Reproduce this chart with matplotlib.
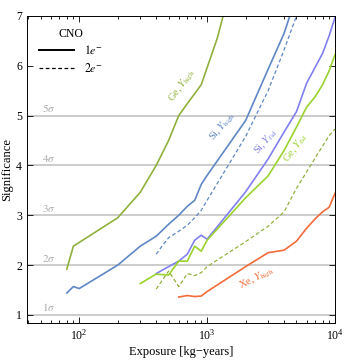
import numpy as np
import matplotlib
matplotlib.use("Agg")
import matplotlib.pyplot as plt
from matplotlib.lines import Line2D

plt.rcParams["font.family"] = ["Liberation Serif", "DejaVu Serif"]
plt.rcParams["mathtext.fontset"] = "stix"

# ---------- Data ----------
ge_high_x = [80, 90, 200, 300, 400, 500, 600, 700, 800, 900, 1000, 1200, 1400]
ge_high_y = [1.92, 2.38, 2.95, 3.46, 4.0, 4.5, 5.0, 5.24, 5.44, 5.62, 5.96, 6.55, 7.2]

si_high_x = [80, 90, 100, 200, 300, 400, 500, 600, 700, 800, 900, 1000, 2000, 3000, 4000, 4500]
si_high_y = [1.44, 1.57, 1.53, 2.0, 2.38, 2.58, 2.82, 3.0, 3.18, 3.3, 3.62, 3.8, 4.9, 5.93, 6.65, 7.05]

si_high2_x = [400, 450, 500, 600, 700, 800, 900, 1000, 2000, 3000, 4000, 5000]
si_high2_y = [2.22, 2.4, 2.55, 2.68, 2.8, 2.95, 3.1, 3.3, 4.58, 5.5, 6.32, 7.0]

si_fid_x = [400, 500, 600, 700, 800, 900, 1000, 2000, 3000, 4000, 5000, 6000, 7000, 8000, 9000, 10000]
si_fid_y = [1.83, 1.97, 2.08, 2.22, 2.5, 2.6, 2.52, 3.47, 4.13, 4.67, 5.08, 5.65, 5.97, 6.25, 6.6, 6.97]

ge_fid_x = [300, 400, 500, 600, 700, 800, 900, 1000, 2000, 3000, 4000, 5000, 6000, 7000, 8000, 9000, 10000]
ge_fid_y = [1.63, 1.82, 1.8, 2.08, 2.08, 2.38, 2.28, 2.5, 3.35, 3.79, 4.3, 4.77, 5.17, 5.38, 5.62, 5.9, 6.22]

ge_fid2_x = [400, 500, 600, 700, 800, 900, 1000, 2000, 3000, 4000, 5000, 6000, 7000, 8000, 9000, 10000]
ge_fid2_y = [1.52, 1.88, 1.57, 1.83, 1.79, 1.85, 1.97, 2.47, 2.78, 3.07, 3.54, 3.87, 4.15, 4.39, 4.6, 4.73]

xe_high_x = [600, 700, 800, 900, 1000, 2000, 3000, 4000, 5000, 6000, 7000, 8000, 9000, 10000]
xe_high_y = [1.36, 1.39, 1.37, 1.38, 1.47, 1.97, 2.25, 2.3, 2.48, 2.74, 2.93, 3.07, 3.16, 3.44]

sigma_levels = [1, 2, 3, 4, 5]

# ---------- Colours ----------
C_GE_HIGH = "#8fb03c"
C_SI_HIGH = "#5f87c5"
C_SI_FID = "#8080f0"
C_GE_FID = "#9ad22e"
C_XE = "#f26b3a"

fig = plt.figure(figsize=(3.45, 3.61), dpi=100)
ax = fig.add_axes([0.078, 0.104, 0.893, 0.852])

for s in sigma_levels:
    ax.axhline(s, color="#cccccc", lw=1.4, zorder=0)
    ax.text(51, s + 0.03, rf"${s}\sigma$", color="#aaaaaa", fontsize=8, ha="left", va="bottom")

ax.plot(ge_high_x, ge_high_y, color=C_GE_HIGH, lw=1.2)
ax.plot(si_high_x, si_high_y, color=C_SI_HIGH, lw=1.2)
ax.plot(si_high2_x, si_high2_y, color=C_SI_HIGH, lw=0.9, ls=(0, (3, 2)))
ax.plot(si_fid_x, si_fid_y, color=C_SI_FID, lw=1.2)
ax.plot(ge_fid_x, ge_fid_y, color=C_GE_FID, lw=1.2)
ax.plot(ge_fid2_x, ge_fid2_y, color=C_GE_HIGH, lw=0.9, ls=(0, (3, 2)))
ax.plot(xe_high_x, xe_high_y, color=C_XE, lw=1.2)

# curve labels
lab = dict(fontsize=7.5, ha="center", va="center", rotation_mode="anchor")
ax.text(640, 5.6, r"Ge, $Y_{\rm high}$", color=C_GE_HIGH, rotation=55, **lab)
ax.text(1330, 4.78, r"Si, $Y_{\rm high}$", color=C_SI_HIGH, rotation=50, **lab)
ax.text(2900, 4.47, r"Si, $Y_{\rm fid}$", color=C_SI_FID, rotation=50, **lab)
ax.text(4900, 4.35, r"Ge, $Y_{\rm fid}$", color=C_GE_FID, rotation=54, **lab)
ax.text(2460, 1.74, r"Xe, $Y_{\rm high}$", color=C_XE, rotation=27, **lab)

ax.set_xscale("log")
ax.set_xlim(39, 1e4)
ax.set_ylim(0.83, 7.0)
ax.set_yticks(range(1, 8))
ax.tick_params(which="both", direction="in", top=True, right=True, labelsize=8.5, width=0.6)
ax.tick_params(which="major", length=4)
ax.tick_params(which="minor", length=2)
for sp in ax.spines.values():
    sp.set_linewidth(0.7)

ax.set_xlabel("Exposure [kg\u2212years]", fontsize=9, labelpad=2)
ax.set_ylabel("Significance", fontsize=9, labelpad=2)

handles = [Line2D([], [], color="black", lw=1.4),
           Line2D([], [], color="black", lw=0.9, ls=(0, (3, 2)))]
leg = ax.legend(handles, [r"$1e^{-}$", r"$2e^{-}$"], title="CNO", loc="upper left",
                frameon=False, fontsize=8.5, title_fontsize=8.5, handlelength=3.0,
                borderaxespad=0.6, labelspacing=0.4)

fig.savefig("out.png", dpi=100)
